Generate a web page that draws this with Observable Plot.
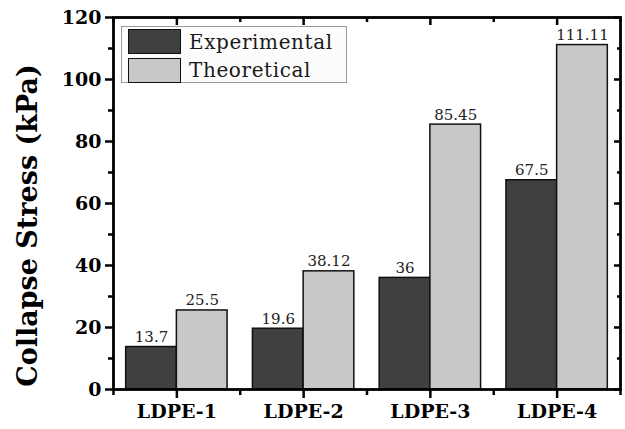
<!DOCTYPE html>
<html>
<head>
<meta charset="utf-8">
<script src="https://cdn.jsdelivr.net/npm/d3@7"></script>
<script src="https://cdn.jsdelivr.net/npm/@observablehq/plot@0.6"></script>
<style>
  html, body { margin: 0; padding: 0; background: #fff; }
  #wrap { position: relative; width: 625px; height: 429px; }
  #legend { position: absolute; left: 121px; top: 26px; width: 226px; height: 57px;
    border: 1px solid #9a9a9a; background: #fcfcfc; box-sizing: border-box; }
  .row { position: absolute; left: 6px; height: 25px; display: flex; align-items: center; }
  .sw { width: 53px; height: 25px; box-sizing: border-box; border: 1.6px solid #111; }
  .lab { margin-left: 8px; font-family: "DejaVu Serif", serif; font-size: 20px; letter-spacing: 0.6px; color: #1a1a1a; }
</style>
</head>
<body>
<div id="wrap"></div>
<script>
const categories = ["LDPE-1", "LDPE-2", "LDPE-3", "LDPE-4"];
const series = ["Experimental", "Theoretical"];
const experimental = [13.7, 19.6, 36, 67.5];
const theoretical = [25.5, 38.12, 85.45, 111.11];
const valueLabels = [["13.7", "19.6", "36", "67.5"], ["25.5", "38.12", "85.45", "111.11"]];
const colors = ["#404040", "#c8c8c8"];
const yTicks = [0, 20, 40, 60, 80, 100, 120];
const yMinor = [10, 30, 50, 70, 90, 110];

const rows = [];
categories.forEach((c, i) => {
  rows.push({cat: c, pos: i + 1, series: series[0], value: experimental[i], label: valueLabels[0][i], lo: i + 1 - 0.4, hi: i + 1});
  rows.push({cat: c, pos: i + 1, series: series[1], value: theoretical[i], label: valueLabels[1][i], lo: i + 1, hi: i + 1 + 0.4});
});
const majorX = categories.map((c, i) => i + 1);
const minorX = d3.range(0, categories.length + 1).map(i => i + 0.5);
const none = () => "";

const serif = "DejaVu Serif";
const chart = Plot.plot({
  width: 625,
  height: 429,
  marginLeft: 113,
  marginRight: 5,
  marginTop: 17,
  marginBottom: 40,
  style: {background: "#fff", color: "#000"},
  x: {type: "linear", domain: [0.5, categories.length + 0.5]},
  y: {domain: [0, 120]},
  color: {domain: series, range: colors},
  marks: [
    Plot.rectY(rows, {x1: "lo", x2: "hi", y1: 0, y2: "value", fill: "series", stroke: "#111", strokeWidth: 1.5}),
    Plot.text(rows, {x: d => (d.lo + d.hi) / 2, y: "value", text: "label", lineAnchor: "bottom", dy: -5,
      fontFamily: serif, fontSize: 15, fill: "#222"}),
    Plot.axisY({ticks: yTicks, tickSize: 8, tickPadding: 4, tickFormat: d => d, label: null,
      fontFamily: serif, fontSize: 19, fontWeight: "bold", strokeWidth: 2.5}),
    Plot.axisY({ticks: yMinor, tickSize: 5, tickFormat: none, label: null, strokeWidth: 2.5}),
    Plot.axisY({anchor: "right", ticks: yTicks, tickSize: 7, insetRight: 7, tickFormat: none, label: null, strokeWidth: 2.5}),
    Plot.axisY({anchor: "right", ticks: yMinor, tickSize: 4, insetRight: 4, tickFormat: none, label: null, strokeWidth: 2.5}),
    Plot.axisX({ticks: majorX, tickSize: 9, tickPadding: 6, tickFormat: d => categories[d - 1], label: null,
      fontFamily: serif, fontSize: 19, fontWeight: "bold", letterSpacing: 1, strokeWidth: 2.5}),
    Plot.axisX({ticks: minorX, tickSize: 6, tickFormat: none, label: null, strokeWidth: 2.5}),
    Plot.axisX({anchor: "top", ticks: majorX, tickSize: 7, insetTop: 7, tickFormat: none, label: null, strokeWidth: 2.5}),
    Plot.axisX({anchor: "top", ticks: minorX, tickSize: 4, insetTop: 4, tickFormat: none, label: null, strokeWidth: 2.5}),
    Plot.frame({stroke: "#000", strokeWidth: 2.8}),
    Plot.text(["Collapse Stress (kPa)"], {frameAnchor: "left", dx: -85, dy: 22, rotate: -90, text: d => d,
      textAnchor: "middle", fontFamily: serif, fontWeight: "bold", fontSize: 27, fill: "#000"})
  ]
});
const wrap = document.getElementById("wrap");
wrap.appendChild(chart);

const legend = document.createElement("div");
legend.id = "legend";
series.forEach((s, i) => {
  const row = document.createElement("div");
  row.className = "row";
  row.style.top = (2 + i * 28.5) + "px";
  const sw = document.createElement("div");
  sw.className = "sw";
  sw.style.background = colors[i];
  const lab = document.createElement("span");
  lab.className = "lab";
  lab.textContent = s;
  row.appendChild(sw);
  row.appendChild(lab);
  legend.appendChild(row);
});
wrap.appendChild(legend);
</script>
</body>
</html>
